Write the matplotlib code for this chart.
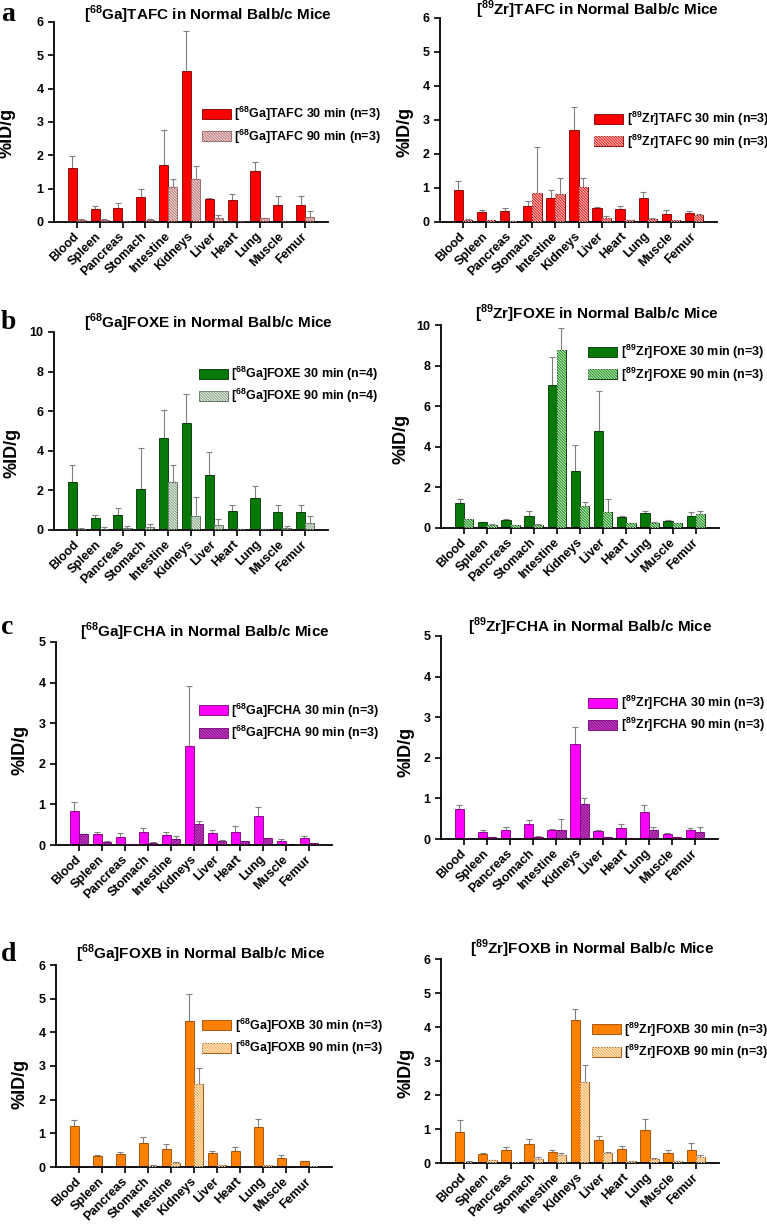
import numpy as np
import matplotlib
matplotlib.use("Agg")
import matplotlib.pyplot as plt

plt.rcParams["font.family"] = ["Liberation Sans", "DejaVu Sans"]
plt.rcParams["font.weight"] = "bold"
plt.rcParams["mathtext.fontset"] = "custom"
plt.rcParams["mathtext.rm"] = "Liberation Sans"
plt.rcParams["mathtext.bf"] = "Liberation Sans:bold"
plt.rcParams["hatch.linewidth"] = 0.7

##### data #####
organs = ["Blood", "Spleen", "Pancreas", "Stomach", "Intestine", "Kidneys",
          "Liver", "Heart", "Lung", "Muscle", "Femur"]

# [68Ga]TAFC
ga_tafc_30 = [1.61, 0.38, 0.41, 0.76, 1.72, 4.52, 0.69, 0.66, 1.54, 0.52, 0.50]
ga_tafc_30_err = [0.36, 0.09, 0.15, 0.22, 1.03, 1.21, 0.03, 0.18, 0.26, 0.25, 0.27]
ga_tafc_90 = [0.07, 0.06, 0.03, 0.06, 1.04, 1.28, 0.13, 0.02, 0.11, 0.02, 0.14]
ga_tafc_90_err = [0.02, 0.02, 0.01, 0.02, 0.24, 0.39, 0.09, 0.01, 0.01, 0.01, 0.20]
# [89Zr]TAFC
zr_tafc_30 = [0.93, 0.30, 0.33, 0.48, 0.71, 2.72, 0.40, 0.38, 0.71, 0.24, 0.26]
zr_tafc_30_err = [0.29, 0.06, 0.08, 0.13, 0.22, 0.67, 0.05, 0.09, 0.18, 0.12, 0.05]
zr_tafc_90 = [0.06, 0.05, 0.02, 0.86, 0.82, 1.04, 0.13, 0.05, 0.10, 0.05, 0.21]
zr_tafc_90_err = [0.02, 0.01, 0.00, 1.35, 0.48, 0.24, 0.06, 0.01, 0.02, 0.01, 0.03]
# [68Ga]FOXE
ga_foxe_30 = [2.41, 0.63, 0.75, 2.06, 4.65, 5.40, 2.80, 0.96, 1.64, 0.93, 0.93]
ga_foxe_30_err = [0.86, 0.14, 0.37, 2.09, 1.42, 1.45, 1.12, 0.29, 0.58, 0.32, 0.32]
ga_foxe_90 = [0.03, 0.05, 0.09, 0.14, 2.42, 0.72, 0.26, 0.03, 0.06, 0.08, 0.33]
ga_foxe_90_err = [0.05, 0.09, 0.13, 0.18, 0.84, 0.94, 0.30, 0.01, 0.01, 0.10, 0.37]
# [89Zr]FOXE
zr_foxe_30 = [1.25, 0.29, 0.38, 0.61, 7.05, 2.82, 4.80, 0.52, 0.72, 0.33, 0.58]
zr_foxe_30_err = [0.20, 0.03, 0.08, 0.21, 1.37, 1.25, 1.97, 0.08, 0.10, 0.07, 0.19]
zr_foxe_90 = [0.43, 0.17, 0.15, 0.16, 8.75, 1.06, 0.79, 0.24, 0.27, 0.24, 0.70]
zr_foxe_90_err = [0.03, 0.02, 0.02, 0.02, 1.10, 0.20, 0.63, 0.02, 0.02, 0.02, 0.13]
# [68Ga]FCHA
ga_fcha_30 = [0.84, 0.26, 0.20, 0.32, 0.25, 2.43, 0.30, 0.33, 0.71, 0.11, 0.17]
ga_fcha_30_err = [0.21, 0.07, 0.09, 0.11, 0.08, 1.49, 0.06, 0.13, 0.22, 0.03, 0.05]
ga_fcha_90 = [0.26, 0.08, 0.02, 0.06, 0.15, 0.51, 0.11, 0.09, 0.17, 0.01, 0.04]
ga_fcha_90_err = [0.01, 0.01, 0.01, 0.01, 0.07, 0.07, 0.01, 0.01, 0.01, 0.01, 0.01]
# [89Zr]FCHA
zr_fcha_30 = [0.74, 0.17, 0.23, 0.38, 0.21, 2.34, 0.20, 0.27, 0.67, 0.13, 0.23]
zr_fcha_30_err = [0.10, 0.06, 0.07, 0.08, 0.04, 0.42, 0.01, 0.09, 0.17, 0.01, 0.04]
zr_fcha_90 = [0.02, 0.04, 0.01, 0.06, 0.23, 0.86, 0.04, 0.03, 0.21, 0.04, 0.17]
zr_fcha_90_err = [0.01, 0.01, 0.00, 0.01, 0.26, 0.15, 0.00, 0.00, 0.08, 0.01, 0.12]
# [68Ga]FOXB
ga_foxb_30 = [1.21, 0.32, 0.39, 0.71, 0.52, 4.33, 0.41, 0.48, 1.19, 0.26, 0.17]
ga_foxb_30_err = [0.19, 0.03, 0.05, 0.19, 0.17, 0.81, 0.06, 0.10, 0.25, 0.09, 0.02]
ga_foxb_90 = [0.00, 0.01, 0.00, 0.04, 0.11, 2.46, 0.05, 0.00, 0.06, 0.00, 0.02]
ga_foxb_90_err = [0.00, 0.00, 0.00, 0.01, 0.03, 0.48, 0.00, 0.00, 0.01, 0.00, 0.00]
# [89Zr]FOXB
zr_foxb_30 = [0.91, 0.27, 0.38, 0.56, 0.33, 4.22, 0.68, 0.42, 0.98, 0.29, 0.39]
zr_foxb_30_err = [0.36, 0.03, 0.08, 0.14, 0.05, 0.31, 0.10, 0.09, 0.31, 0.09, 0.20]
zr_foxb_90 = [0.04, 0.08, 0.04, 0.12, 0.24, 2.37, 0.30, 0.06, 0.13, 0.06, 0.17]
zr_foxb_90_err = [0.01, 0.01, 0.00, 0.05, 0.06, 0.50, 0.02, 0.01, 0.01, 0.01, 0.06]

##### panel definitions #####
# (isotope, compound, n, v30, e30, v90, e90, ymax, ystep,
#  color30, edge, face90, hatch90, edge90,
#  axes box in px (left, top, right, bottom), legend anchor, title pos, ylabel pos)
panels = [
    ("68", "Ga", "TAFC", 3, ga_tafc_30, ga_tafc_30_err, ga_tafc_90, ga_tafc_90_err, 6, 1,
     "#ff0000", "#7a0000", "#f3e6e6", "#b86c6c", "#8a5a5a",
     (54, 22, 328, 222), (0.54, 0.585), (0.562, 1.035), (-0.14, 0.445)),
    ("89", "Zr", "TAFC", 3, zr_tafc_30, zr_tafc_30_err, zr_tafc_90, zr_tafc_90_err, 6, 1,
     "#ff0000", "#7a0000", "#e81a1a", "#ffc4c4", "#7a0000",
     (440, 18, 717, 222), (0.556, 0.55), (0.567, 1.039), (-0.094, 0.44)),
    ("68", "Ga", "FOXE", 4, ga_foxe_30, ga_foxe_30_err, ga_foxe_90, ga_foxe_90_err, 10, 2,
     "#087808", "#003000", "#eef3ee", "#7f9f7f", "#4f604f",
     (54, 332, 328, 530), (0.529, 0.835), (0.562, 1.045), (-0.124, 0.39)),
    ("89", "Zr", "FOXE", 3, zr_foxe_30, zr_foxe_30_err, zr_foxe_90, zr_foxe_90_err, 10, 2,
     "#087808", "#003000", "#158c15", "#c8f0c8", "#003000",
     (441, 325, 719, 528), (0.529, 0.912), (0.561, 1.054), (-0.115, 0.44)),
    ("68", "Ga", "FCHA", 3, ga_fcha_30, ga_fcha_30_err, ga_fcha_90, ga_fcha_90_err, 5, 1,
     "#ff00ff", "#7a007a", "#e040e0", "#701070", "#7a007a",
     (56, 642, 332, 845), (0.518, 0.707), (0.54, 1.049), (-0.10, 0.47)),
    ("89", "Zr", "FCHA", 3, zr_fcha_30, zr_fcha_30_err, zr_fcha_90, zr_fcha_90_err, 5, 1,
     "#ff00ff", "#7a007a", "#e040e0", "#701070", "#7a007a",
     (441, 636, 718, 839), (0.531, 0.716), (0.54, 1.044), (-0.097, 0.43)),
    ("68", "Ga", "FOXB", 3, ga_foxb_30, ga_foxb_30_err, ga_foxb_90, ga_foxb_90_err, 6, 1,
     "#ff8000", "#9a4800", "#f5aa50", "#fff0d8", "#9a4800",
     (56, 965, 332, 1167), (0.529, 0.745), (0.525, 1.054), (-0.10, 0.41)),
    ("89", "Zr", "FOXB", 3, zr_foxb_30, zr_foxb_30_err, zr_foxb_90, zr_foxb_90_err, 6, 1,
     "#ff8000", "#9a4800", "#f5aa50", "#fff0d8", "#9a4800",
     (441, 959, 719, 1163), (0.543, 0.698), (0.543, 1.049), (-0.097, 0.44)),
]

W, H = 767, 1224
fig = plt.figure(figsize=(W / 100, H / 100), dpi=100)

x = np.arange(1, len(organs) + 1)
bw = 0.4

for (mass, el, comp, n, v30, e30, v90, e90, ymax, ystep,
     c30, edge, f90, h90, edge90, box, leg, tpos, ypos) in panels:
    l, t, r, b = box
    ax = fig.add_axes([l / W, 1 - b / H, (r - l) / W, (b - t) / H])
    tag = "[$^{%s}$%s]%s" % (mass, el, comp)

    # 30 min bars
    b30 = ax.bar(x - bw / 2, v30, bw, color=c30, edgecolor=edge, linewidth=0.6, zorder=2)
    # 90 min bars: fill, then hatch overlay
    b90 = ax.bar(x + bw / 2, v90, bw, color=f90, edgecolor=edge90, linewidth=0.6, zorder=2)
    b90h = ax.bar(x + bw / 2, v90, bw, color="none", edgecolor=h90, linewidth=0,
                  hatch="\\" * 12, zorder=3)
    # one-sided error bars
    ax.errorbar(x - bw / 2, v30, yerr=[np.zeros(len(v30)), e30], fmt="none",
                ecolor="#808080", elinewidth=0.8, capsize=2, capthick=0.8, zorder=1)
    ax.errorbar(x + bw / 2, v90, yerr=[np.zeros(len(v90)), e90], fmt="none",
                ecolor="#808080", elinewidth=0.8, capsize=2, capthick=0.8, zorder=1)

    ax.set_xlim(0, 12)
    ax.set_ylim(0, ymax)
    ax.set_yticks(np.arange(0, ymax + 0.01, ystep))
    ax.set_xticks(x)
    ax.set_xticklabels(organs, rotation=45, ha="right", va="center",
                       rotation_mode="anchor", fontsize=9, fontweight="bold")
    ax.tick_params(axis="y", labelsize=9, length=4, width=1.2, direction="out")
    ax.tick_params(axis="x", length=4, width=1.2, direction="out", pad=5)
    for lab in ax.get_yticklabels():
        lab.set_fontweight("bold")
    ax.spines["top"].set_visible(False)
    ax.spines["right"].set_visible(False)
    ax.spines["left"].set_linewidth(1.3)
    ax.spines["bottom"].set_linewidth(1.3)

    ax.set_ylabel("%ID/g", fontsize=13, fontweight="bold")
    ax.yaxis.set_label_coords(ypos[0], ypos[1])
    ax.text(tpos[0], tpos[1], tag + " in Normal Balb/c Mice", transform=ax.transAxes,
            ha="center", va="center", fontsize=11, fontweight="bold")

    ax.legend([b30, (b90, b90h)],
              [tag + " 30 min (n=%d)" % n, tag + " 90 min (n=%d)" % n],
              loc="upper left", bbox_to_anchor=leg, frameon=False, borderpad=0,
              borderaxespad=0, handlelength=2.3, handleheight=0.85, handletextpad=0.3,
              labelspacing=0.35, prop={"size": 9, "weight": "bold"})

# panel letters
for letter, ypx in zip("abcd", [21, 329, 634, 961]):
    fig.text(1 / W, 1 - ypx / H, letter, fontsize=20, fontweight="bold",
             family="Liberation Serif", ha="left", va="baseline")

plt.savefig("out.png", dpi=100)
plt.close()
